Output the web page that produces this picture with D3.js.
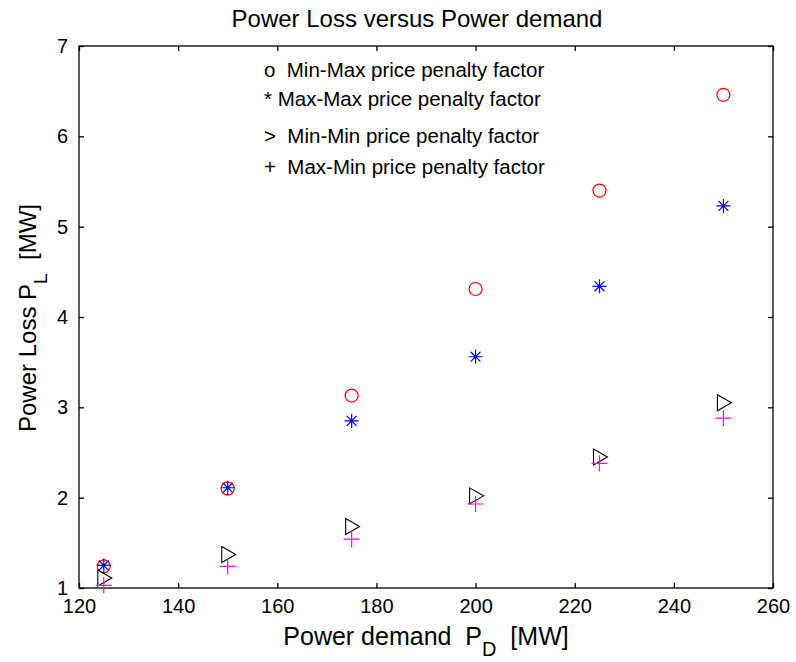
<!DOCTYPE html>
<html><head><meta charset="utf-8">
<script src="https://cdn.jsdelivr.net/npm/d3@7"></script>
<style>body{margin:0;background:#fff}svg{display:block;font-family:"Liberation Sans",Arial,sans-serif}</style>
</head><body>
<svg id="c" width="796" height="662"></svg>
<script>
const demand = [125, 150, 175, 200, 225, 250];
const minMax = [1.24, 2.10, 3.13, 4.31, 5.40, 6.46];
const maxMax = [1.25, 2.11, 2.85, 3.56, 4.34, 5.23];
const minMin = [1.11, 1.37, 1.68, 2.02, 2.45, 3.05];
const maxMin = [1.03, 1.24, 1.54, 1.93, 2.38, 2.88];
const xTicks = [120, 140, 160, 180, 200, 220, 240, 260];
const yTicks = [1, 2, 3, 4, 5, 6, 7];
const legendItems = [
  {sym: "o", gap: "  ", text: "Min-Max price penalty factor"},
  {sym: "*", gap: " ", text: "Max-Max price penalty factor"},
  {sym: ">", gap: "  ", text: "Min-Min price penalty factor"},
  {sym: "+", gap: "  ", text: "Max-Min price penalty factor"}
];

const svg = d3.select("#c");
const L = 79, R = 773, T = 46, B = 588;
const x = d3.scaleLinear().domain([120, 260]).range([L, R]);
const y = d3.scaleLinear().domain([1, 7]).range([B, T]);

svg.append("rect").attr("x", L).attr("y", T).attr("width", R - L).attr("height", B - T)
  .attr("fill", "none").attr("stroke", "#000").attr("stroke-width", 1.3);

const fs = "20px";
const fmt = d3.format("d");
const gx = svg.append("g").attr("transform", `translate(0,${B})`)
  .call(d3.axisBottom(x).tickValues(xTicks).tickFormat(fmt).tickSizeInner(-5).tickSizeOuter(0).tickPadding(11));
const gxt = svg.append("g").attr("transform", `translate(0,${T})`)
  .call(d3.axisTop(x).tickValues(xTicks).tickSizeInner(-5).tickSizeOuter(0).tickFormat(""));
const gy = svg.append("g").attr("transform", `translate(${L},0)`)
  .call(d3.axisLeft(y).tickValues(yTicks).tickFormat(fmt).tickSizeInner(-5).tickSizeOuter(0).tickPadding(11));
const gyr = svg.append("g").attr("transform", `translate(${R},0)`)
  .call(d3.axisRight(y).tickValues(yTicks).tickSizeInner(-5).tickSizeOuter(0).tickFormat(""));
[gx, gxt, gy, gyr].forEach(g => {
  g.select(".domain").remove();
  g.selectAll("line").attr("stroke", "#000").attr("stroke-width", 1.3);
  g.selectAll("text").attr("font-size", fs).attr("fill", "#000")
    .attr("font-family", "'Liberation Sans',Arial,sans-serif");
});

svg.append("text").attr("x", 417).attr("y", 27).attr("text-anchor", "middle")
  .attr("font-size", "24px").text("Power Loss versus Power demand");

const xl = svg.append("text").attr("x", 426).attr("y", 645).attr("text-anchor", "middle")
  .attr("font-size", "25px").attr("xml:space", "preserve");
xl.append("tspan").text("Power demand  P");
xl.append("tspan").attr("dy", 11).attr("font-size", "20px").text("D");
xl.append("tspan").attr("dy", -11).text("  [MW]");

const yl = svg.append("text").attr("transform", "translate(36,318) rotate(-90)")
  .attr("text-anchor", "middle").attr("font-size", "24px").attr("xml:space", "preserve");
yl.append("tspan").text("Power Loss P");
yl.append("tspan").attr("dy", 11).attr("font-size", "19px").text("L");
yl.append("tspan").attr("dy", -11).text("  [MW]");

const legY = [77, 106, 143, 174];
legendItems.forEach((d, i) => {
  svg.append("text").attr("x", 264).attr("y", legY[i]).attr("font-size", "20.5px")
    .attr("xml:space", "preserve").text(d.sym + d.gap + d.text);
});

const g = svg.append("g");
g.selectAll("circle.mm").data(demand).join("circle")
  .attr("cx", d => x(d)).attr("cy", (d, i) => y(minMax[i])).attr("r", 6.5)
  .attr("fill", "none").attr("stroke", "#ff0000").attr("stroke-width", 1.2);
const star = (cx, cy, s) => {
  const a = s * 0.707;
  return `M${cx - s},${cy}H${cx + s}M${cx},${cy - s}V${cy + s}M${cx - a},${cy - a}L${cx + a},${cy + a}M${cx - a},${cy + a}L${cx + a},${cy - a}`;
};
g.selectAll("path.st").data(demand).join("path").attr("class", "st")
  .attr("d", (d, i) => star(x(d), y(maxMax[i]), 7))
  .attr("fill", "none").attr("stroke", "#0000ff").attr("stroke-width", 1.2);
g.selectAll("path.tr").data(demand).join("path").attr("class", "tr")
  .attr("d", (d, i) => { const cx = x(d), cy = y(minMin[i]); return `M${cx - 6},${cy - 8}L${cx + 8},${cy}L${cx - 6},${cy + 8}Z`; })
  .attr("fill", "none").attr("stroke", "#000").attr("stroke-width", 1.1);
g.selectAll("path.pl").data(demand).join("path").attr("class", "pl")
  .attr("d", (d, i) => { const cx = x(d), cy = y(maxMin[i]); return `M${cx - 8},${cy}H${cx + 8}M${cx},${cy - 8}V${cy + 8}`; })
  .attr("fill", "none").attr("stroke", "#ff00ff").attr("stroke-width", 1.2);
</script>
</body></html>
